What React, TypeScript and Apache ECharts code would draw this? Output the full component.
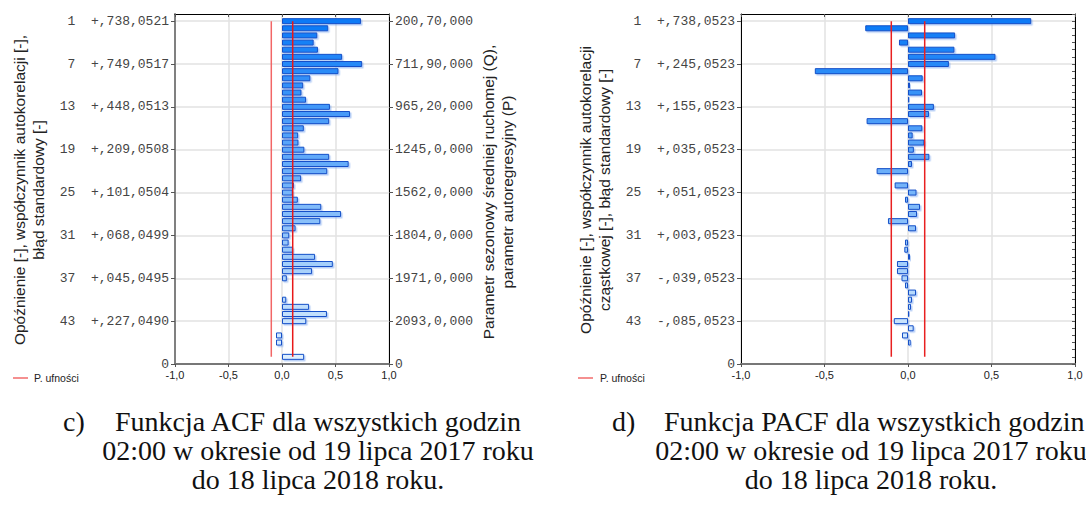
import React, { useEffect, useRef } from "react";
import * as echarts from "echarts";

// ---- data ----
const lagCategories = ["1","2","3","4","5","6","7","8","9","10","11","12","13","14","15","16","17","18","19","20","21","22","23","24","25","26","27","28","29","30","31","32","33","34","35","36","37","38","39","40","41","42","43","44","45","46","47","48"];

const acfValues = [0.738,0.432,0.330,0.296,0.336,0.562,0.749,0.528,0.265,0.198,0.182,0.225,0.448,0.636,0.441,0.204,0.151,0.154,0.209,0.441,0.623,0.423,0.179,0.111,0.101,0.148,0.367,0.552,0.358,0.127,0.068,0.062,0.102,0.309,0.475,0.281,0.045,-0.009,-0.009,0.040,0.253,0.420,0.227,-0.006,-0.056,-0.056,-0.006,0.207];

const pacfValues = [0.738,-0.256,0.282,-0.054,0.278,0.524,0.245,-0.558,0.088,0.012,0.084,0.008,0.155,0.126,-0.248,0.086,0.028,0.098,0.035,0.128,0.024,-0.188,0.004,-0.080,0.051,-0.018,0.072,0.054,-0.120,0.048,0.003,-0.018,-0.022,0.012,-0.066,-0.066,-0.039,-0.018,0.048,0.024,0.018,0.008,-0.085,0.034,-0.036,0.016,0.005,0.004];

const labeledLags = [1, 7, 13, 19, 25, 31, 37, 43];
const acfLeftLabels = ["+,738,0521","+,749,0517","+,448,0513","+,209,0508","+,101,0504","+,068,0499","+,045,0495","+,227,0490"];
const acfRightLabels = ["200,70,000","711,90,000","965,20,000","1245,0,000","1562,0,000","1804,0,000","1971,0,000","2093,0,000"];
const pacfLeftLabels = ["+,738,0523","+,245,0523","+,155,0523","+,035,0523","+,051,0523","+,003,0523","-,039,0523","-,085,0523"];
const bottomLagLabel = "0";

const acfConfidence = [-0.1, 0.1];
const pacfConfidence = [-0.1, 0.1];

const xTicks = { min: -1, max: 1, interval: 0.5 };

// ---- helpers ----
const yCats = ["", ...lagCategories, ""];
const lastIdx = yCats.length - 1;
const NB = "\u00A0";

const isLabeled = (i: number) => labeledLags.indexOf(i) >= 0 || i === lastIdx;
const isGrid = (i: number) => labeledLags.indexOf(i) >= 0;

const leftFormatter = (labels: string[]) => (_v: string, i: number) => {
  if (i === lastIdx) return bottomLagLabel;
  const p = labeledLags.indexOf(i);
  if (p < 0) return "";
  const lag = String(labeledLags[p]);
  const padded = (lag.length < 2 ? NB : "") + lag;
  return padded + NB + NB + labels[p];
};
const rightFormatter = (labels: string[]) => (_v: string, i: number) => {
  if (i === lastIdx) return bottomLagLabel;
  const p = labeledLags.indexOf(i);
  return p < 0 ? "" : labels[p];
};

const c0 = [12, 122, 246];
const c1 = [222, 239, 253];
const barColor = (params: any) => {
  const t = Math.max(0, Math.min(1, (params.dataIndex - 1) / (lagCategories.length - 1)));
  const c = c0.map((v, k) => Math.round(v + (c1[k] - v) * t));
  return `rgb(${c[0]},${c[1]},${c[2]})`;
};

const MONO = '"Liberation Mono", "DejaVu Sans Mono", monospace';
const SANS = '"Liberation Sans", Arial, sans-serif';
const SERIF = '"Liberation Serif", "Times New Roman", serif';

const xFmt = (v: number) => v.toFixed(1).replace(".", ",");

function xAxes(grid: number) {
  return [
    {
      gridIndex: grid, type: "value", position: "bottom", ...xTicks,
      axisLine: { show: true, onZero: false, lineStyle: { color: "#777", width: 2 } },
      axisTick: { show: true, length: 3, lineStyle: { color: "#555" } },
      axisLabel: { formatter: xFmt, fontSize: 11, color: "#222", margin: 5, fontFamily: SANS },
      splitLine: { show: true, lineStyle: { color: "#e2e2e2", width: 1.5 } },
    },
    {
      gridIndex: grid, type: "value", position: "top", ...xTicks,
      axisLine: { show: true, onZero: false, lineStyle: { color: "#000", width: 1 } },
      axisTick: { show: true, inside: true, length: 3, lineStyle: { color: "#555" } },
      axisLabel: { show: false },
      splitLine: { show: false },
    },
  ];
}

function yAxes(grid: number, leftLabels: string[], rightLabels: string[] | null, leftGrey: boolean) {
  const left = {
    gridIndex: grid, type: "category", data: yCats, inverse: true, boundaryGap: false, position: "left",
    axisLine: { show: true, onZero: false, lineStyle: { color: leftGrey ? "#808080" : "#000", width: leftGrey ? 2 : 1 } },
    axisTick: { show: true, interval: (i: number) => isLabeled(i), length: 4, lineStyle: { color: "#555" } },
    axisLabel: { interval: (i: number) => isLabeled(i), formatter: leftFormatter(leftLabels), fontFamily: MONO, fontSize: 13, color: "#444", margin: 6 },
    splitLine: { show: true, interval: (i: number) => isGrid(i), lineStyle: { color: "#e2e2e2", width: 1.5 } },
  };
  const right: any = {
    gridIndex: grid, type: "category", data: yCats, inverse: true, boundaryGap: false, position: "right",
    axisLine: { show: true, onZero: false, lineStyle: { color: "#000", width: 1 } },
    splitLine: { show: false },
  };
  if (rightLabels) {
    right.axisTick = { show: true, interval: (i: number) => isLabeled(i), length: 4, lineStyle: { color: "#555" } };
    right.axisLabel = { interval: (i: number) => isLabeled(i), formatter: rightFormatter(rightLabels), fontFamily: MONO, fontSize: 13, color: "#444", margin: 6 };
  } else {
    right.axisTick = { show: true, interval: 0, inside: true, length: 3, lineStyle: { color: "#555" } };
    right.axisLabel = { show: false };
  }
  return [left, right];
}

function seriesFor(xIdx: number, yIdx: number, values: number[], conf: number[], lowColor: string, highColor: string) {
  return [
    {
      type: "bar", xAxisIndex: xIdx, yAxisIndex: yIdx, barWidth: 6,
      data: ["-", ...values, "-"],
      itemStyle: {
        color: barColor, borderColor: "#1450c8", borderWidth: 1,
        shadowColor: "rgba(100,150,235,0.45)", shadowOffsetX: 1.5, shadowOffsetY: 1.5, shadowBlur: 1,
      },
      z: 3,
    },
    {
      type: "line", xAxisIndex: xIdx, yAxisIndex: yIdx, symbol: "none", z: 5,
      data: [[conf[0], 1], [conf[0], lagCategories.length]],
      lineStyle: { color: lowColor, width: 1.5 },
    },
    {
      type: "line", xAxisIndex: xIdx, yAxisIndex: yIdx, symbol: "none", z: 5,
      data: [[conf[1], 1], [conf[1], lagCategories.length]],
      lineStyle: { color: highColor, width: 1.5 },
    },
  ];
}

function vText(text: string, x: number, y: number) {
  return {
    type: "text", x, y, rotation: Math.PI / 2,
    style: { text, font: `15.5px ${SANS}`, fill: "#222", textAlign: "center", align: "center", textVerticalAlign: "middle", verticalAlign: "middle", lineHeight: 19 },
  };
}
function hText(text: string, x: number, y: number, font: string, fill = "#111", align = "left") {
  return { type: "text", x, y, style: { text, font, fill, textAlign: align, align, textVerticalAlign: "middle", verticalAlign: "middle" } };
}

export default function App() {
  const ref = useRef<HTMLDivElement>(null);
  useEffect(() => {
    if (!ref.current) return;
    const chart = echarts.init(ref.current, null, { renderer: "svg" });
    const capFont = `28px ${SERIF}`;
    chart.setOption({
      animation: false,
      backgroundColor: "#fff",
      grid: [
        { left: 175, top: 14, width: 214, height: 350 },
        { left: 741, top: 14, width: 334, height: 350 },
      ],
      xAxis: [...xAxes(0), ...xAxes(1)],
      yAxis: [
        ...yAxes(0, acfLeftLabels, acfRightLabels, true),
        ...yAxes(1, pacfLeftLabels, null, false),
      ],
      series: [
        ...seriesFor(0, 0, acfValues, acfConfidence, "#f26666", "#e81818"),
        ...seriesFor(2, 2, pacfValues, pacfConfidence, "#e82020", "#e82020"),
      ],
      graphic: [
        vText("Opóźnienie [-], współczynnik autokorelacji [-],\nbłąd standardowy [-]", 29, 190),
        vText("Parametr sezonowy średniej ruchomej (Q),\nparametr autoregresyjny (P)", 498, 192),
        vText("Opóźnienie [-], współczynnik autokorelacji\ncząstkowej [-], błąd standardowy [-]", 595, 190),
        { type: "line", shape: { x1: 13, y1: 378, x2: 28, y2: 378 }, style: { stroke: "#f26b6b", lineWidth: 1.5 } },
        hText("P. ufności", 34, 378, `10.5px ${SANS}`, "#222"),
        { type: "line", shape: { x1: 578, y1: 378, x2: 593, y2: 378 }, style: { stroke: "#f26b6b", lineWidth: 1.5 } },
        hText("P. ufności", 600, 378, `10.5px ${SANS}`, "#222"),
        hText("c)", 63, 421, capFont),
        hText("Funkcja ACF dla wszystkich godzin", 115, 421, capFont),
        hText("02:00 w okresie od 19 lipca 2017 roku", 318, 450, capFont, "#111", "center"),
        hText("do 18 lipca 2018 roku.", 318, 479, capFont, "#111", "center"),
        hText("d)", 612, 421, capFont),
        hText("Funkcja PACF dla wszystkich godzin", 664, 421, capFont),
        hText("02:00 w okresie od 19 lipca 2017 roku", 871, 450, capFont, "#111", "center"),
        hText("do 18 lipca 2018 roku.", 871, 479, capFont, "#111", "center"),
      ],
    });
    return () => chart.dispose();
  }, []);
  return (
    <div
      ref={ref}
      style={{ position: "fixed", left: 0, top: 0, width: 1086, height: 505, background: "#fff" }}
    />
  );
}
